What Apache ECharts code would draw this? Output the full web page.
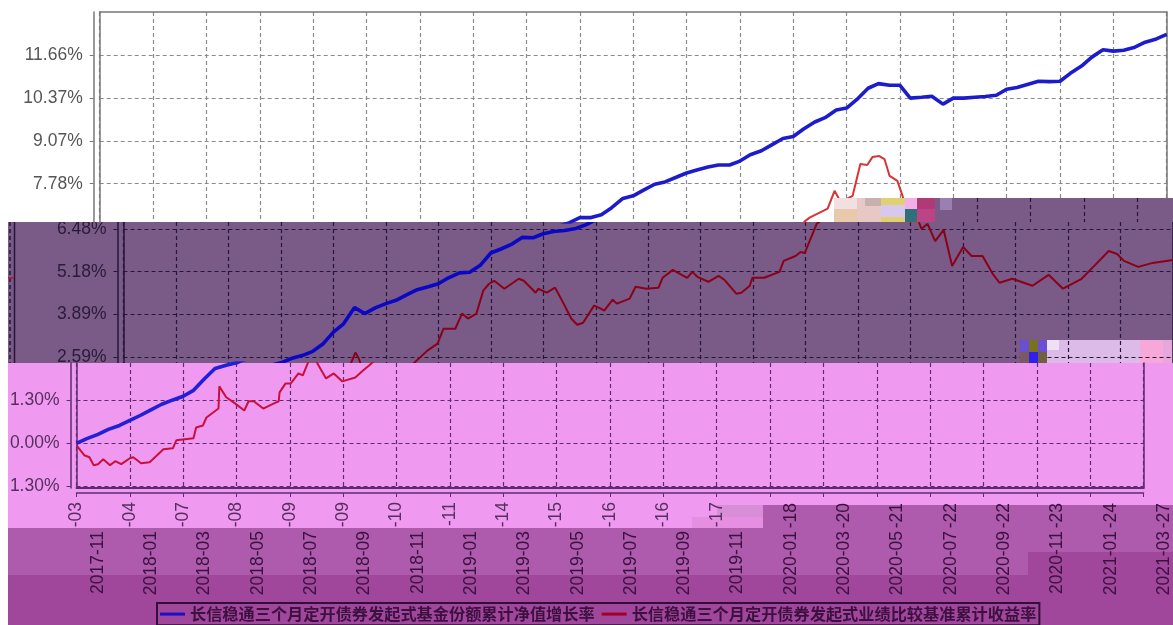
<!DOCTYPE html>
<html>
<head>
<meta charset="utf-8">
<title>长信稳通三个月定开债券</title>
<script src="https://cdn.jsdelivr.net/npm/echarts@6/dist/echarts.min.js"></script>
<style>
  html, body { margin: 0; padding: 0; background: #fff; }
  /* the reference is a soft, upscaled screenshot */
  #main { width: 1173px; height: 625px; filter: blur(0.5px); }
</style>
</head>
<body>
<div id="main"></div>
<script>
const navName = '长信稳通三个月定开债券发起式基金份额累计净值增长率'
const benchName = '长信稳通三个月定开债券发起式业绩比较基准累计收益率'

const tickDates = ['2017-11-03', '2018-01-04', '2018-03-07', '2018-05-08', '2018-07-09', '2018-09-09', '2018-11-10',
  '2019-01-11', '2019-03-14', '2019-05-15', '2019-07-16', '2019-09-16', '2019-11-17', '2020-01-18', '2020-03-20',
  '2020-05-21', '2020-07-22', '2020-09-22', '2020-11-23', '2021-01-24', '2021-03-27']
const yTickValues = [-1.296, 0, 1.296, 2.592, 3.888, 5.184, 6.48, 7.776, 9.072, 10.368, 11.664]
const yTickLabels = ['1.30%', '0.00%', '1.30%', '2.59%', '3.89%', '5.18%', '6.48%', '7.78%', '9.07%', '10.37%', '11.66%']

// days since 2017-11-03, values in %
const navDays = [0, 12, 25, 37, 50, 62, 74, 87, 99, 112, 124, 136, 149, 161, 174, 186, 198, 211, 223, 236, 248, 260, 273,
  285, 298, 310, 322, 335, 347, 360, 372, 384, 397, 409, 422, 434, 446, 459, 471, 484, 496, 508, 521, 533, 546, 558, 570,
  583, 595, 608, 620, 632, 645, 657, 670, 682, 694, 707, 719, 732, 744, 756, 769, 781, 794, 806, 818, 831, 843, 856, 868,
  880, 893, 905, 918, 930, 942, 955, 967, 980, 992, 1004, 1017, 1029, 1042, 1054, 1066, 1079, 1091, 1104, 1116, 1128,
  1141, 1153, 1166, 1178, 1190, 1203, 1215, 1228, 1240]
const navValues = [0, 0.14, 0.27, 0.42, 0.54, 0.69, 0.84, 1.02, 1.18, 1.31, 1.42, 1.6, 1.96, 2.26, 2.36, 2.43, 2.56, 2.65,
  2.77, 3.01, 3.36, 3.61, 4.1, 3.92, 4.1, 4.22, 4.32, 4.49, 4.64, 4.73, 4.82, 5.0, 5.15, 5.17, 5.39, 5.75, 5.87, 6.02,
  6.22, 6.21, 6.33, 6.4, 6.43, 6.48, 6.6, 6.75, 6.75, 6.84, 7.05, 7.33, 7.41, 7.58, 7.76, 7.83, 7.97, 8.1, 8.19, 8.28,
  8.34, 8.34, 8.46, 8.65, 8.77, 8.95, 9.14, 9.2, 9.43, 9.64, 9.77, 10.0, 10.06, 10.32, 10.66, 10.8, 10.75, 10.75, 10.36,
  10.39, 10.42, 10.18, 10.36, 10.36, 10.39, 10.41, 10.45, 10.63, 10.68, 10.78, 10.87, 10.86, 10.87, 11.11, 11.33, 11.6,
  11.82, 11.78, 11.81, 11.9, 12.05, 12.15, 12.29]
const benchDays = [0, 9, 15, 20, 25, 31, 39, 45, 52, 62, 66, 75, 85, 101, 112, 116, 136, 139, 147, 151, 165, 166, 174, 183,
  195, 200, 206, 217, 229, 235, 236, 243, 249, 258, 263, 270, 274, 278, 280, 290, 299, 309, 324, 333, 340, 359, 371, 378,
  392, 400, 407, 417, 425, 432, 438, 450, 467, 473, 487, 490, 500, 510, 520, 529, 536, 543, 556, 564, 568, 578, 583, 598,
  605, 618, 632, 637, 649, 666, 672, 678, 691, 703, 710, 724, 730, 740, 743, 757, 775, 780, 794, 800, 805, 819, 825, 846,
  854, 861, 875, 884, 892, 898, 906, 912, 918, 927, 933, 940, 943, 950, 959, 969, 979, 992, 1002, 1015, 1027, 1035, 1050,
  1074, 1093, 1110, 1132, 1147, 1164, 1174, 1182, 1199, 1216, 1240]
const benchValues = [-0.06, -0.36, -0.42, -0.66, -0.63, -0.48, -0.66, -0.54, -0.63, -0.45, -0.42, -0.6, -0.57, -0.18, -0.15,
  0.09, 0.15, 0.48, 0.54, 0.78, 1.05, 1.72, 1.39, 1.23, 0.99, 1.27, 1.27, 1.05, 1.2, 1.27, 1.54, 1.81, 1.81, 2.11, 2.05,
  2.5, 2.74, 2.56, 2.41, 1.96, 2.11, 1.87, 1.99, 2.2, 2.35, 2.8, 3.01, 3.46, 3.46, 3.92, 3.77, 3.92, 4.61, 4.82, 4.91,
  4.67, 4.97, 4.91, 4.55, 4.67, 4.55, 4.7, 4.22, 3.77, 3.58, 3.64, 4.16, 4.07, 4.01, 4.34, 4.22, 4.37, 4.73, 4.67, 4.7,
  5.0, 5.24, 5.0, 5.18, 5.03, 4.88, 5.06, 4.94, 4.52, 4.55, 4.76, 5.0, 5.0, 5.18, 5.51, 5.66, 5.78, 5.75, 6.63, 6.75,
  7.02, 7.56, 7.23, 7.41, 8.37, 8.34, 8.58, 8.61, 8.52, 8.01, 7.86, 7.41, 6.66, 6.48, 6.63, 6.11, 6.45, 5.36, 5.93, 5.66,
  5.66, 5.12, 4.85, 4.97, 4.76, 5.09, 4.67, 4.97, 5.36, 5.81, 5.72, 5.51, 5.33, 5.45, 5.54]

const tickStep = 62
const lastDay = 1240
const plotWidth = 1067
const labelFont = {fontFamily: '"Liberation Sans", Arial, sans-serif', fontSize: 17.5}

const navData = navDays.map((d, i) => [d, navValues[i]])
const benchData = benchDays.map((d, i) => [d, benchValues[i]])

// the picture is cut into horizontal strips that are shifted sideways, so every strip gets its own grid
const grids = []
const xAxes = []
const yAxes = []
const series = []

function frameY(index, band, position) {
  return {
    type: 'value', gridIndex: index, min: band.min, max: band.max, position: position, z: band.axisZ,
    axisLine: {show: true, onZero: false, lineStyle: {color: band.line, width: 1.5}},
    axisTick: {show: false}, axisLabel: {show: false}, splitLine: {show: false}
  }
}

function addBand(band) {
  const index = grids.length
  grids.push({left: band.left, width: plotWidth, top: band.top, height: band.bottom - band.top, show: false})
  const inRange = yTickValues.filter(v => v >= band.min && v <= band.max)
  const dashed = {color: band.grid || band.line, type: [4, 3], width: 1.2}
  xAxes.push({
    type: 'value', gridIndex: index, min: 0, max: lastDay, interval: tickStep, z: band.axisZ,
    position: band.xPosition, offset: band.xOffset || 0,
    axisLine: {show: !!band.xPosition, onZero: false, lineStyle: {color: band.line, width: 1.5}},
    axisTick: {show: !!band.xLabels, length: 4, lineStyle: {color: band.line}},
    axisLabel: band.xLabels ? {
      show: true, rotate: 90, margin: 9, color: band.text, hideOverlap: false, ...labelFont,
      formatter: band.xLabels
    } : {show: false},
    splitLine: {show: true, lineStyle: dashed}
  })
  if (band.xOffset) {
    xAxes.push({
      type: 'value', gridIndex: index, min: 0, max: lastDay, position: 'bottom', z: band.axisZ,
      axisLine: {show: true, onZero: false, lineStyle: {color: band.line, width: 2}},
      axisTick: {show: false}, axisLabel: {show: false}, splitLine: {show: false}
    })
  }
  yAxes.push({
    type: 'value', gridIndex: index, min: band.min, max: band.max, position: 'left', offset: 6, z: band.axisZ,
    axisLine: {show: true, onZero: false, lineStyle: {color: band.line, width: 1.5}},
    axisTick: {show: true, length: 4, customValues: inRange, lineStyle: {color: band.line}},
    axisLabel: {
      show: true, margin: 11, color: band.text, customValues: inRange, ...labelFont,
      formatter: v => yTickLabels[yTickValues.indexOf(v)]
    },
    splitLine: {show: true, lineStyle: dashed}
  })
  const mainY = yAxes.length - 1
  const mainX = xAxes.findIndex(a => a.gridIndex === index)
  yAxes.push(frameY(index, band, 'left'))
  yAxes.push(frameY(index, band, 'right'))
  series.push({
    name: navName, type: 'line', data: navData, xAxisIndex: mainX, yAxisIndex: mainY, showSymbol: false,
    z: band.seriesZ, lineStyle: {color: band.navColor, width: 3.6}, itemStyle: {color: band.navColor}
  })
  series.push({
    name: benchName, type: 'line', data: benchData, xAxisIndex: mainX, yAxisIndex: mainY, showSymbol: false,
    z: band.seriesZ, lineStyle: {color: band.benchColor, width: 2}, itemStyle: {color: band.benchColor}
  })
}

// purple strip, drawn first so the strips above and below can cover its overflow
addBand({
  left: 123.5, top: 222, bottom: 363, min: 2.426, max: 6.686, axisZ: 2, seriesZ: 3,
  line: '#26173a', text: '#2a1b38', navColor: '#0a08c4', benchColor: '#8c0018'
})
// white strip
addBand({
  left: 99.7, top: 12, bottom: 222, min: 6.619, max: 12.963, axisZ: 5, seriesZ: 6, xPosition: 'top',
  line: '#777777', grid: '#8c8c8c', text: '#555555', navColor: '#1c1ccc', benchColor: '#d83434'
})
// pink strip with the date suffixes
addBand({
  left: 76.5, top: 363, bottom: 488, min: -1.35, max: 2.426, axisZ: 8, seriesZ: 9, xPosition: 'bottom', xOffset: 5,
  line: '#5c2c70', text: '#55305f', navColor: '#2020d8', benchColor: '#c8103c',
  xLabels: v => (v / tickStep <= 12 ? tickDates[v / tickStep].slice(7) : '')
})

// corner of the purple strip that climbs higher on the right side
const patchLeft = 935
const patchTicks = [992, 1054, 1116, 1178]
grids.push({left: patchLeft, width: 238, top: 198, height: 24, show: false})
xAxes.push({
  type: 'value', gridIndex: 3, min: 943, max: 1219.6, z: 8,
  axisLine: {show: false}, axisLabel: {show: false},
  axisTick: {show: false, customValues: patchTicks},
  splitLine: {show: true, lineStyle: {color: '#26173a', type: [4, 3], width: 1.2}}
})
yAxes.push({type: 'value', gridIndex: 3, show: false, min: 6.686, max: 7.411})

// date labels of the lower strips, shifted like the rest
function labelAxis(margin, formatter) {
  return {
    type: 'value', gridIndex: 4, min: 0, max: lastDay, interval: tickStep, position: 'bottom', z: 8,
    axisLine: {show: false}, axisTick: {show: false}, splitLine: {show: false},
    axisLabel: {show: true, rotate: 90, margin: margin, color: '#3a1240', hideOverlap: false, ...labelFont, formatter: formatter}
  }
}
grids.push({left: 98, width: plotWidth, top: 497, height: 1, show: false})
xAxes.push(labelAxis(5, v => (v / tickStep > 12 ? tickDates[v / tickStep].slice(7) : '')))
xAxes.push(labelAxis(33, v => tickDates[v / tickStep].slice(0, 7)))
yAxes.push({type: 'value', gridIndex: 4, show: false, min: 0, max: 1})

function block(x, y, width, height, fill, z) {
  return {type: 'rect', shape: {x, y, width, height}, style: {fill}, z, silent: true}
}
function vline(x, y1, y2, stroke, dash) {
  return {type: 'line', shape: {x1: x, y1, x2: x, y2}, style: {stroke, lineWidth: 1.5, lineDash: dash}, z: 8, silent: true}
}

const graphics = [
  block(8, 222, 1165, 141, '#7a5a87', 0),
  // pale corrupted area under the grid of the purple strip
  block(1047, 340, 93, 23, '#ddbbe8', 1),
  block(1140, 340, 23, 23, '#f6a8d8', 1),
  block(1163, 340, 10, 23, '#e6a8da', 1),
  // covers the purple strip where the white one takes over
  block(0, 0, 1173, 222, '#ffffff', 4),
  block(patchLeft, 198, 238, 24, '#7a5a87', 7),
  block(8, 363, 1165, 165, '#f099f0', 7),
  block(8, 528, 1165, 47, '#ae5aad', 7),
  block(8, 575, 1165, 50, '#a1479b', 7),
  block(763, 505, 410, 23, '#ae5aad', 7),
  block(692, 517, 71, 11, '#e58ee2', 7),
  block(717, 505, 46, 12, '#d88ed6', 7),
  block(1028, 552, 145, 23, '#a1479b', 7),
  // right edge of the purple strip wrapped round to the left
  vline(10, 222, 363, '#26173a', [4, 3]),
  vline(14.5, 222, 363, '#26173a'),
  {type: 'line', shape: {x1: 8, y1: 278, x2: 14, y2: 278}, style: {stroke: '#c01030', lineWidth: 1.5}, z: 8, silent: true},
  // corrupted blocks
  block(834, 198, 23, 11, '#f2dfe2', 10),
  block(834, 209, 23, 13, '#e8c9ac', 10),
  block(857, 198, 24, 24, '#e8c8c4', 10),
  block(865, 198, 16, 8, '#c8b0b0', 10),
  block(881, 198, 24, 7, '#e0d070', 10),
  block(881, 205, 24, 12, '#d8c8f0', 10),
  block(881, 217, 24, 5, '#e0d070', 10),
  block(905, 198, 12, 11, '#f2b0e8', 10),
  block(905, 209, 12, 13, '#30707a', 10),
  block(917, 198, 18, 11, '#b03a78', 10),
  block(917, 209, 18, 13, '#bb4484', 10),
  block(940, 198, 12, 12, '#9a80b0', 10),
  block(1020, 340, 9, 12, '#6a50d0', 10),
  block(1029, 340, 9, 12, '#7a7020', 10),
  block(1038, 340, 9, 12, '#6a50d0', 10),
  block(1020, 352, 9, 11, '#7a5a60', 10),
  block(1029, 352, 9, 11, '#3020f0', 10),
  block(1038, 352, 9, 11, '#706040', 10),
  block(1047, 340, 12, 10, '#eee2f2', 10),
  block(0, 222, 8, 403, '#ffffff', 10)
]

const option = {
  animation: false,
  grid: grids,
  xAxis: xAxes,
  yAxis: yAxes,
  series: series,
  graphic: {elements: graphics},
  legend: {
    left: 157, top: 603, z: 11, padding: [3, 3, 3, 3], itemGap: 7,
    itemWidth: 25, itemHeight: 3, icon: 'rect',
    borderColor: '#30103a', borderWidth: 2,
    textStyle: {color: '#3c1040', fontSize: 16.2, fontWeight: 'bold', fontFamily: '"Noto Sans CJK SC", sans-serif'},
    data: [
      {name: navName, itemStyle: {color: '#1a10c8'}},
      {name: benchName, itemStyle: {color: '#a00028'}}
    ]
  }
}

const myChart = echarts.init(document.getElementById('main'))
myChart.setOption(option)
</script>
</body>
</html>
